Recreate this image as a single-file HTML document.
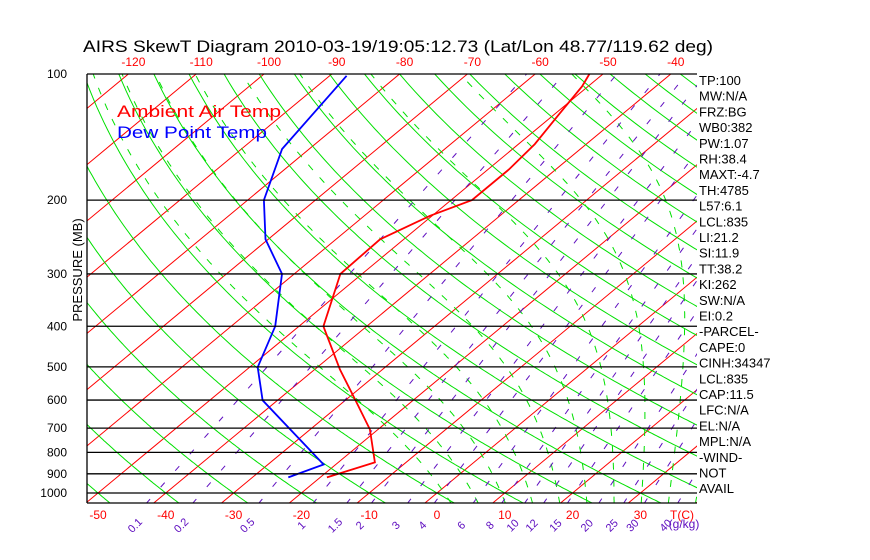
<!DOCTYPE html>
<html><head><meta charset="utf-8"><style>
html,body{margin:0;padding:0;background:#fff;}
svg{display:block;font-family:"Liberation Sans","DejaVu Sans",sans-serif;}
</style></head><body>
<svg id="chart" width="870" height="560" viewBox="0 0 870 560" xmlns="http://www.w3.org/2000/svg">
<rect x="0" y="0" width="870" height="560" fill="#fff"/>
<defs><clipPath id="plotclip"><rect x="87" y="74" width="610" height="429"/></clipPath></defs>
<g id="grid" clip-path="url(#plotclip)"></g>
<g id="series" clip-path="url(#plotclip)"></g>
<g id="axes"></g>
<text x="83" y="52" font-size="16.5" textLength="630" lengthAdjust="spacingAndGlyphs">AIRS SkewT Diagram 2010-03-19/19:05:12.73 (Lat/Lon 48.77/119.62 deg)</text>
<text x="117" y="117" font-size="17" fill="#ff0000" textLength="164" lengthAdjust="spacingAndGlyphs">Ambient Air Temp</text>
<text x="117" y="138" font-size="17" fill="#0000ff" textLength="150" lengthAdjust="spacingAndGlyphs">Dew Point Temp</text>
<text transform="translate(82,270) rotate(-90)" text-anchor="middle" font-size="13">PRESSURE (MB)</text>
<g id="stats"></g>
</svg>
<script>
// ---- data ----
const pressureLevels = [100,200,300,400,500,600,700,800,900,1000];
const bottomTempTicks = [-50,-40,-30,-20,-10,0,10,20,30];
const topTempTicks = [-120,-110,-100,-90,-80,-70,-60,-50,-40];
const tempPressure = [918,845,705,597,507,400,300,248,218,200,169,147,125,107,100];
const tempValues = [-19.0,-14.6,-21.2,-28.8,-36.3,-46.4,-53.2,-53.5,-50.3,-46.9,-46.9,-47.6,-49.3,-50.9,-52.0];
const dewPressure = [918,855,601,501,400,300,248,200,151,101];
const dewValues = [-24.7,-21.8,-42.2,-48.8,-53.5,-61.8,-70.4,-77.6,-84.0,-87.5];
const mixRatios = [0.1,0.2,0.5,1,1.5,2,3,4,6,8,10,12,15,20,25,30,40];
const mixLabels = ["0.1","0.2","0.5","1","1.5","2","3","4","6","8","10","12","15","20","25","30","40"];
const statLabels = ["TP:100","MW:N/A","FRZ:BG","WB0:382","PW:1.07","RH:38.4","MAXT:-4.7","TH:4785","L57:6.1","LCL:835","LI:21.2","SI:11.9","TT:38.2","KI:262","SW:N/A","EI:0.2","-PARCEL-","CAPE:0","CINH:34347","LCL:835","CAP:11.5","LFC:N/A","EL:N/A","MPL:N/A","-WIND-","NOT","AVAIL"];

// ---- axis functions ----
const NS="http://www.w3.org/2000/svg";
const Y0=74, YS=419, X0=437, XT=6.78, SK=505;
function yP(p){return Y0+YS*Math.log10(p/100);}
function xTP(t,p){return X0+XT*t+SK*Math.log10(1000/p);}
function mk(tag,attrs,parent){const e=document.createElementNS(NS,tag);for(const k in attrs)e.setAttribute(k,attrs[k]);parent.appendChild(e);return e;}
const grid=document.getElementById('grid'), series=document.getElementById('series'), axes=document.getElementById('axes'), stats=document.getElementById('stats');
const pgrid=[];for(let p=100;p<=1060;p+=5)pgrid.push(p);

// isotherms
for(let t=-160;t<=50;t+=10){
  const l=mk('line',{x1:xTP(t,1060),y1:yP(1060),x2:xTP(t,100),y2:yP(100),stroke:'#ff0000','stroke-width':1},grid);
  
  
}
// dry adiabats
for(let k=-12;k<=20;k++){
  const th=273.15+10*k;
  const d=pgrid.map((p,i)=>{const T=th*Math.pow(p/1000,0.286)-273.15;return (i?'L':'M')+xTP(T,p).toFixed(1)+','+yP(p).toFixed(1);}).join('');
  const e=mk('path',{d:d,fill:'none',stroke:'#00e000','stroke-width':1},grid);
  
  
}
// moist adiabats
function es(T){return 6.112*Math.exp(17.67*T/(T+243.5));}
for(let t0=4;t0<=40;t0+=4){
  let T=t0, pts=[];
  for(let p=1060;p>=100;p-=2){
    pts.push([xTP(T,p),yP(p)]);
    const Tk=T+273.15, e=es(T), rs=0.622*e/(p-e), Lv=2.5e6, Rd=287, cp=1004;
    const num=(Rd*Tk+Lv*rs)/p, den=cp+Lv*Lv*rs*0.622/(Rd*Tk*Tk);
    T-= (num/den)*2;
  }
  const d=pts.map((q,i)=>(i?'L':'M')+q[0].toFixed(1)+','+q[1].toFixed(1)).join('');
  const e=mk('path',{d:d,fill:'none',stroke:'#00e000','stroke-width':1,'stroke-dasharray':'7,10'},grid);
  
  
}
// mixing ratio lines
function tdw(w,p){const e=w*p/(622+w);const a=Math.log(e/6.112);return 243.5*a/(17.67-a);}
mixRatios.forEach((w,i)=>{
  const d=[1060,100].map((p,j)=>(j?'L':'M')+xTP(tdw(w,p),p).toFixed(1)+','+yP(p).toFixed(1)).join('');
  const e=mk('path',{d:d,fill:'none',stroke:'#6010c0','stroke-width':1,'stroke-dasharray':'6,16'},grid);
  
  
  const x=xTP(tdw(w,1050),1050)-10;
  const t=mk('text',{transform:`translate(${x.toFixed(1)},528) rotate(-45)`,'font-size':11,fill:'#6010c0','text-anchor':'middle'},axes);
  t.textContent=mixLabels[i];
  
  
});
// pressure lines + labels
pressureLevels.forEach(p=>{
  const y=yP(p);
  const l=mk('line',{x1:87,y1:y,x2:697,y2:y,stroke:'#000','stroke-width':1.3},axes);
  
  
  const t=mk('text',{x:67,y:y+4,'font-size':12,'text-anchor':'end'},axes);
  t.textContent=p;
  
  
});
// frame
const fl=mk('line',{x1:87,y1:74,x2:87,y2:503,stroke:'#000','stroke-width':1.3},axes);


const fb=mk('line',{x1:87,y1:503,x2:697,y2:503,stroke:'#000','stroke-width':1.3},axes);


// temp ticks
bottomTempTicks.forEach(t=>{
  const e=mk('text',{x:xTP(t,1000),y:519,'font-size':12,fill:'#ff0000','text-anchor':'middle'},axes);
  e.textContent=t;
  
  
});
const tc=mk('text',{x:682,y:519,'font-size':12,fill:'#ff0000','text-anchor':'middle'},axes);
tc.textContent='T(C)';


const gk=mk('text',{x:684,y:528,'font-size':12,fill:'#6010c0','text-anchor':'middle'},axes);
gk.textContent='(g/kg)';


topTempTicks.forEach(t=>{
  const e=mk('text',{x:xTP(t,100)+5,y:66,'font-size':12,fill:'#ff0000','text-anchor':'middle'},axes);
  e.textContent=t;
  
  
});
// series
function line(P,V,color,name){
  const d=P.map((p,i)=>(i?'L':'M')+xTP(V[i],p).toFixed(1)+','+yP(p).toFixed(1)).join('');
  const e=mk('path',{d:d,fill:'none',stroke:color,'stroke-width':1.8},series);
  
  
}
line(tempPressure,tempValues,'#ff0000','ambient-temp-line');
line(dewPressure,dewValues,'#0000ff','dew-point-line');
// stats
statLabels.forEach((s,i)=>{
  const e=mk('text',{x:699,y:85+i*15.7,'font-size':13},stats);
  e.textContent=s;
  
  
});
</script>
</body></html>
